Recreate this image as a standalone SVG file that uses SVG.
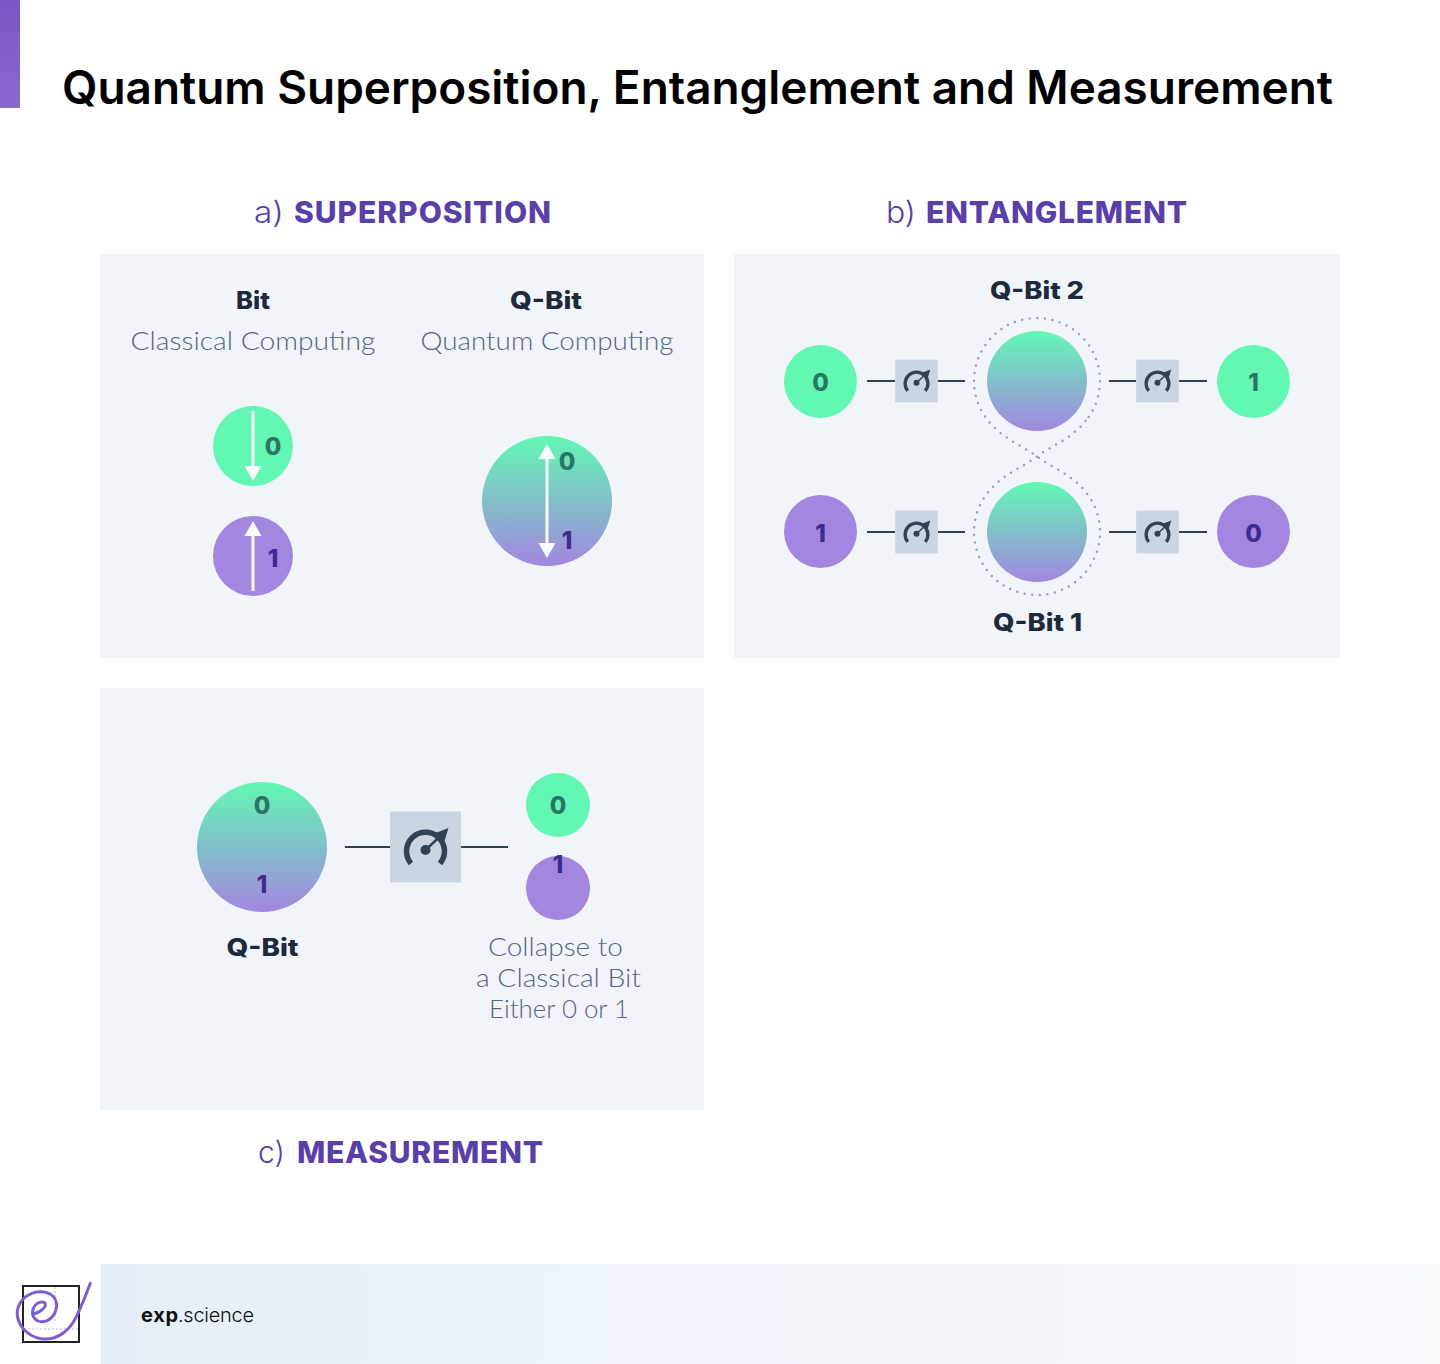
<svg xmlns="http://www.w3.org/2000/svg" xmlns:xlink="http://www.w3.org/1999/xlink" width="1440" height="1364" viewBox="0 0 1440 1364">
<style>
text{font-family:"Inter","Liberation Sans",sans-serif}
.panel{fill:#f1f4f9}
.title{font-size:46px;font-weight:600;fill:#000}
.head{font-size:30px;font-weight:800;fill:#5b3fa9}
.pre{font-size:30px;font-weight:300;fill:#5b3fa9}
.lab{font-size:24px;font-weight:800;fill:#1e293b;text-anchor:middle}
.sub{font-family:"Lato","Liberation Sans",sans-serif;font-size:26px;font-weight:300;fill:#566580;text-anchor:middle}
.d0{font-size:24px;font-weight:800;fill:#2b7564;text-anchor:middle}
.d1{font-size:24px;font-weight:800;fill:#3f2a90;text-anchor:middle}
.g{fill:#62f8b4}.p{fill:#a386e0}.q{fill:url(#qg)}
.ln{stroke:#334155;stroke-width:2;fill:none}
.box{fill:#cbd5e1}
.wh{stroke:#f8fafc;stroke-width:3;fill:none}
.hd{fill:#f8fafc}
</style>
<defs>
<linearGradient id="qg" x1="0" y1="0" x2="0" y2="1"><stop offset="0" stop-color="#62f8b4"/><stop offset="1" stop-color="#a386e0"/></linearGradient>
<linearGradient id="bar" x1="0" y1="0" x2="0" y2="1"><stop offset="0" stop-color="#7a56c4"/><stop offset="1" stop-color="#8a68d0"/></linearGradient>
<linearGradient id="foot" x1="0" y1="0" x2="1" y2="0"><stop offset="0" stop-color="#e6eff7"/><stop offset="1" stop-color="#f8fafc"/></linearGradient>
<g id="gauge">
<rect class="box" x="-35.500" y="-35.500" width="71" height="71"/>
<path d="M-14.500 16.500A19 19 0 1 1 14.500 16.500" fill="none" stroke="#334155" stroke-width="5.500"/>
<circle cx="0" cy="3" r="5" fill="#334155"/>
<path d="M0 3L16 -12" stroke="#334155" stroke-width="2.500" fill="none"/>
<path d="M23 -19L19 -6L10 -14Z" fill="#334155"/>
</g>
</defs>
<rect width="1440" height="1364" fill="#fff"/>
<rect x="0" y="0" width="20" height="108" fill="url(#bar)"/>
<text class="title" x="62" y="104" textLength="1271" lengthAdjust="spacingAndGlyphs">Quantum Superposition, Entanglement and Measurement</text>

<g id="panel-a">
<rect class="panel" x="100" y="254" width="604" height="404"/>
<text class="pre" x="254" y="223" textLength="30" lengthAdjust="spacingAndGlyphs">a)</text>
<text class="head" x="294" y="223" textLength="257">SUPERPOSITION</text>
<text class="lab" x="253" y="309" textLength="34" lengthAdjust="spacingAndGlyphs">Bit</text>
<text class="sub" x="253" y="350" textLength="245" lengthAdjust="spacingAndGlyphs">Classical Computing</text>
<text class="lab" x="546" y="309" textLength="72" lengthAdjust="spacingAndGlyphs">Q-Bit</text>
<text class="sub" x="547" y="350" textLength="253" lengthAdjust="spacingAndGlyphs">Quantum Computing</text>
</g>
<g id="bit-0">
<circle class="g" cx="253" cy="446" r="40"/>
<path class="wh" d="M253 411V468"/><path class="hd" d="M253 481L244.500 466H261.500Z"/>
<text class="d0" x="273" y="455">0</text>
</g>
<g id="bit-1">
<circle class="p" cx="253" cy="556" r="40"/>
<path class="wh" d="M253 591V534"/><path class="hd" d="M253 521L244.500 536H261.500Z"/>
<text class="d1" x="273" y="567">1</text>
</g>
<g id="qbit-a">
<circle class="q" cx="547" cy="501" r="65"/>
<path class="wh" d="M547 457V545"/><path class="hd" d="M547 444L538.500 459H555.500Z"/><path class="hd" d="M547 558L538.500 543H555.500Z"/>
<text class="d0" x="567" y="470">0</text>
<text class="d1" x="567" y="549">1</text>
</g>

<g id="panel-b">
<rect class="panel" x="734" y="254" width="606" height="404"/>
<text class="pre" x="886" y="223" textLength="30" lengthAdjust="spacingAndGlyphs">b)</text>
<text class="head" x="926" y="223" textLength="261">ENTANGLEMENT</text>
<text class="lab" x="1037" y="299" textLength="94" lengthAdjust="spacingAndGlyphs">Q-Bit 2</text>
<text class="lab" x="1037.500" y="631" textLength="89" lengthAdjust="spacingAndGlyphs">Q-Bit 1</text>
</g>
<g id="panel-c">
<rect class="panel" x="100" y="688" width="604" height="422"/>
<text class="pre" x="258" y="1163" textLength="27" lengthAdjust="spacingAndGlyphs">c)</text>
<text class="head" x="297" y="1163" textLength="246">MEASUREMENT</text>
<text class="lab" x="262.500" y="956" textLength="72" lengthAdjust="spacingAndGlyphs">Q-Bit</text>
<text class="sub" x="555.500" y="956" textLength="135" lengthAdjust="spacingAndGlyphs">Collapse to</text>
<text class="sub" x="558.500" y="987" textLength="165" lengthAdjust="spacingAndGlyphs">a Classical Bit</text>
<text class="sub" x="559" y="1018" textLength="140" lengthAdjust="spacingAndGlyphs">Either 0 or 1</text>
</g>
<g id="connectors">
<path class="ln" d="M867 381H895M938 381H965M1109 381H1136M1179 381H1207M867 532H895M938 532H965M1109 532H1136M1179 532H1207"/>
<path class="ln" d="M345 847H390M461 847H508"/>
<path d="M1088.700 417A63 63 0 1 0 985.300 417C1000 438 1020 444 1037 456.500C1054 469 1074 475 1088.700 496A63 63 0 1 1 985.300 496C1000 475 1020 469 1037 456.500C1054 444 1074 438 1088.700 417Z" fill="none" stroke="#94a3b8" stroke-width="2.500" stroke-linecap="round" stroke-dasharray="0 7.600"/>
</g>
<g id="qbit-2"><circle class="q" cx="1037" cy="381" r="50"/></g>
<g id="qbit-1"><circle class="q" cx="1037" cy="532" r="50"/></g>
<g id="b-0-top"><circle class="g" cx="820.500" cy="381.500" r="36.500"/><text class="d0" x="820.500" y="391">0</text></g>
<g id="b-1-top"><circle class="g" cx="1253.500" cy="381.500" r="36.500"/><text class="d0" x="1253.500" y="391">1</text></g>
<g id="b-1-bottom"><circle class="p" cx="820.500" cy="531.500" r="36.500"/><text class="d1" x="820.500" y="542">1</text></g>
<g id="b-0-bottom"><circle class="p" cx="1253.500" cy="531.500" r="36.500"/><text class="d1" x="1253.500" y="542">0</text></g>
<g id="gauge-b1"><use href="#gauge" transform="translate(916.500 381) scale(.6)"/></g>
<g id="gauge-b2"><use href="#gauge" transform="translate(1157.500 381) scale(.6)"/></g>
<g id="gauge-b3"><use href="#gauge" transform="translate(916.500 532) scale(.6)"/></g>
<g id="gauge-b4"><use href="#gauge" transform="translate(1157.500 532) scale(.6)"/></g>

<g id="qbit-c">
<circle class="q" cx="262" cy="847" r="65"/>
<text class="d0" x="262" y="814">0</text>
<text class="d1" x="262" y="893">1</text>
</g>
<g id="gauge-c"><use href="#gauge" transform="translate(425.500 847)"/></g>
<g id="c-0"><circle class="g" cx="558" cy="805" r="32"/><text class="d0" x="558" y="814">0</text></g>
<g id="c-1"><circle class="p" cx="558" cy="888" r="32"/><text class="d1" x="558" y="873">1</text></g>

<g id="footer">
<rect x="101" y="1264" width="1339" height="100" fill="url(#foot)"/>
<text x="141" y="1322" font-size="20" font-weight="700" fill="#111" textLength="37">exp</text>
<text x="178" y="1322" font-size="20" font-weight="300" fill="#111" textLength="76">.science</text>
</g>
<g id="logo">
<rect x="23" y="1286" width="56" height="56" fill="#fff" stroke="#222" stroke-width="2"/>
<path d="M55 1287V1322M24 1329H78" stroke="#c5b8e6" stroke-width="1" stroke-dasharray="2 2" fill="none"/>
<path transform="translate(0 1260) scale(.3333)" d="M100 162C118 158 138 144 136 132C132 122 108 124 99 148C93 170 108 186 128 185C152 184 170 160 170 134C168 108 146 95 122 95C88 95 58 118 52 152C48 190 78 228 122 236C165 243 205 218 228 172C244 140 258 105 271 70" fill="none" stroke="#7f5fd0" stroke-width="9" stroke-linecap="round"/>
</g>
</svg>
